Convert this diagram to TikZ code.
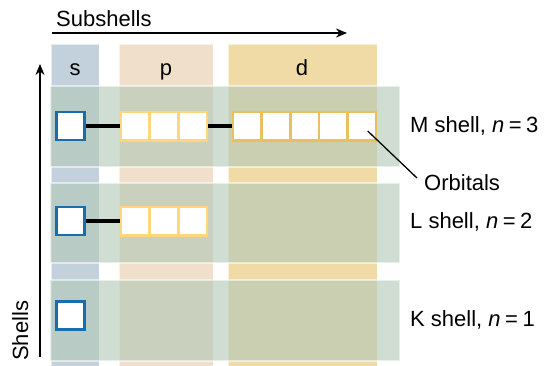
\documentclass[tikz,border=0pt]{standalone}
\usepackage{fontspec}
\setmainfont{Liberation Sans}
\usetikzlibrary{arrows.meta}
\definecolor{scol}{HTML}{C3D1DC}
\definecolor{pcol}{HTML}{F0DFCA}
\definecolor{dcol}{HTML}{F0DBA6}
\definecolor{band}{HTML}{B3C8B8}
\definecolor{sblue}{HTML}{1A6DAD}
\definecolor{pgold}{HTML}{FFD77A}
\definecolor{dgold}{HTML}{E8C15E}
\newcommand{\eqsp}{\hspace{4.5pt}=\hspace{4.5pt}}
\tikzset{
  column/.style={draw=white, draw opacity=0.6, line width=1pt},
  shellband/.style={fill=band, fill opacity=0.62, draw=white, draw opacity=0.55, line width=2pt},
  sbox/.style={draw=sblue, fill=white, line width=2.8pt, minimum size=28pt, inner sep=0pt},
  pbox/.style={draw=pgold, fill=white, line width=2.6pt, minimum width=28.67pt, minimum height=28.4pt, inner sep=0pt},
  dbox/.style={draw=dgold, fill=white, line width=2.6pt, minimum width=28.6pt, minimum height=28.4pt, inner sep=0pt},
  link/.style={draw=black, line width=3.2pt},
  lbl/.style={font=\fontsize{22}{25}\selectfont, inner sep=0pt},
  axis/.style={draw=black, line width=2.2pt, -{Stealth[length=11pt,width=9pt]}},
}
\begin{document}
\begin{tikzpicture}[x=1pt,y=-1pt]
\useasboundingbox (0,0) rectangle (545,365);
% columns
\fill[scol] (51,44) rectangle (99,367);
\fill[pcol] (119,44) rectangle (213,367);
\fill[dcol] (228,44) rectangle (377,367);
\draw[column] (51,44) rectangle (99,367);
\draw[column] (119,44) rectangle (213,367);
\draw[column] (228,44) rectangle (377,367);
% headers
\node[lbl, anchor=base] (hs) at (75,75) {s};
\node[lbl, anchor=base] (hp) at (166,75) {p};
\node[lbl, anchor=base] (hd) at (302,75) {d};
% shell bands
\path[shellband] (50,86) rectangle (400,167);
\path[shellband] (50,183) rectangle (400,263);
\path[shellband] (50,280) rectangle (400,361);
% M shell
\node[sbox] (s3) at (70.5,126) {};
\node[pbox] (p3a) at (135.3,126) {};
\node[pbox] (p3b) at (164,126) {};
\node[pbox] (p3c) at (192.7,126) {};
\node[dbox] (d3a) at (247.3,126) {};
\node[dbox] (d3b) at (275.9,126) {};
\node[dbox] (d3c) at (304.5,126) {};
\node[dbox] (d3d) at (333.1,126) {};
\node[dbox] (d3e) at (361.7,126) {};
\draw[link] (s3.east) -- (p3a.west);
\draw[link] (p3c.east) -- (d3a.west);
% L shell
\node[sbox] (s2) at (70.5,221) {};
\node[pbox] (p2a) at (135.3,221) {};
\node[pbox] (p2b) at (164,221) {};
\node[pbox] (p2c) at (192.7,221) {};
\draw[link] (s2.east) -- (p2a.west);
% K shell
\node[sbox] (s1) at (70.5,315.5) {};
% labels
\node[lbl, anchor=base west] (lm) at (410,132) {M shell, \textit{n}\eqsp3};
\node[lbl, anchor=base west] (ll) at (410,228) {L shell, \textit{n}\eqsp2};
\node[lbl, anchor=base west] (lk) at (410,326) {K shell, \textit{n}\eqsp1};
\node[lbl, anchor=base west] (orb) at (424,190) {Orbitals};
\coordinate (orbend) at (417,178);
\draw[line width=1.3pt] (d3e.center) ++(6,5) coordinate (orbstart) -- (orbend);
% axes
\coordinate (sx0) at (52,33);
\coordinate (sx1) at (347,33);
\draw[axis] (sx0) -- (sx1);
\node[lbl, anchor=base west] (subsh) at (56,26) {Subshells};
\coordinate (sy0) at (40,357);
\coordinate (sy1) at (40,64);
\draw[axis] (sy0) -- (sy1);
\node[lbl, anchor=base west, rotate=90] (shells) at (28,361) {Shells};
\end{tikzpicture}
\end{document}
